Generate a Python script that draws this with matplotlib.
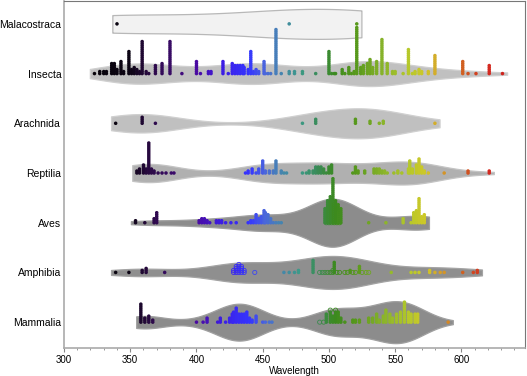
import numpy as np
import matplotlib
matplotlib.use('Agg')
import matplotlib.pyplot as plt
from matplotlib import mlab
from matplotlib.colors import LinearSegmentedColormap
from matplotlib.ticker import MultipleLocator

plt.rcParams['font.family'] = ['Liberation Sans', 'DejaVu Sans']

classes = ['Malacostraca', 'Insecta', 'Arachnida', 'Reptilia', 'Aves', 'Amphibia', 'Mammalia']

# peak wavelengths (nm) and how many records sit at each one
malacostraca_wl = [340, 470, 521]
malacostraca_n = [1, 1, 1]

insecta_wl = [323, 327, 330, 332, 336, 338, 340, 343, 345, 349, 351, 353, 355, 357, 359, 362, 364,
              369, 374, 380, 389, 400, 403, 409, 411, 420, 424, 427, 429, 431, 433, 435, 436, 439,
              441, 443, 445, 447, 451, 452, 454, 456, 460, 464, 470, 474, 480, 490, 500, 502, 504,
              505, 510, 512, 515, 517, 519, 521, 524, 526, 529, 531, 533, 536, 540, 544, 548, 550,
              556, 560, 563, 565, 568, 570, 575, 580, 601, 605, 611, 621, 631]
insecta_n = [1, 2, 2, 2, 6, 6, 3, 7, 2, 12, 3, 4, 3, 2, 17, 2, 1,
             5, 6, 17, 1, 7, 1, 2, 2, 7, 1, 6, 5, 5, 5, 5, 4, 3,
             12, 2, 3, 2, 7, 1, 1, 1, 23, 1, 2, 2, 2, 1, 12, 1, 1,
             1, 3, 1, 4, 1, 2, 24, 4, 5, 6, 8, 4, 7, 18, 6, 2, 2,
             1, 13, 1, 2, 3, 2, 2, 10, 7, 1, 1, 5, 1]

arachnida_wl = [339, 359, 369, 480, 490, 520, 531, 538, 541, 580]
arachnida_n = [1, 4, 1, 1, 3, 3, 2, 1, 2, 1]

reptilia_wl = [355, 357, 360, 362, 364, 366, 368, 371, 374, 377, 381, 383,
               437, 439, 442, 445, 447, 450, 452, 455, 458, 460, 464, 466, 468,
               480, 483, 485, 488, 490, 492, 494, 496, 498, 500, 502,
               518, 520, 522, 527, 534, 536, 538, 540, 542, 544, 549, 552, 555, 560, 561, 563,
               566, 568, 570, 572, 575, 587, 605, 621]
reptilia_n = [2, 3, 5, 3, 16, 3, 2, 1, 1, 1, 1, 1,
              1, 2, 3, 1, 3, 7, 2, 2, 2, 7, 2, 1, 1,
              1, 1, 2, 2, 4, 4, 4, 3, 1, 4, 5,
              1, 4, 2, 2, 3, 3, 3, 2, 2, 1, 1, 2, 1, 3, 7, 3,
              5, 8, 4, 2, 1, 1, 2, 2]

aves_wl = [354, 361, 368, 370,
           402, 404, 406, 408, 410, 415, 417, 419, 422, 426, 430,
           439, 441, 443, 445, 447, 449, 451, 452, 454, 456, 458, 460, 462, 464,
           497, 499, 501, 503, 505, 507, 509,
           530, 543, 556, 562, 564, 566, 568, 570, 572]
aves_n = [2, 1, 3, 6,
          2, 3, 3, 2, 1, 2, 2, 2, 1, 1, 1,
          1, 2, 2, 5, 3, 4, 7, 6, 5, 3, 1, 1, 1, 1,
          8, 12, 14, 23, 12, 10, 8,
          1, 1, 3, 1, 6, 7, 13, 4, 5]
aves_open_wl = [498, 500, 502, 504, 506, 508]
aves_open_n = [6, 9, 11, 10, 8, 6]

amphibia_wl = [339, 349, 359, 362, 376, 466, 470, 474, 477, 488, 504, 516, 523,
               547, 562, 565, 568, 576, 580, 584, 587, 601, 609, 612]
amphibia_n = [1, 1, 2, 3, 1, 1, 1, 1, 2, 7, 6, 2, 4,
              1, 1, 1, 1, 2, 1, 1, 1, 1, 1, 2]
amphibia_open_wl = [428, 430, 432, 434, 436, 444,
                    493, 495, 497, 499, 501, 503, 506, 508, 512, 514, 518, 520, 525, 528, 530]
amphibia_open_n = [2, 4, 5, 4, 2, 1,
                   1, 1, 1, 1, 1, 2, 1, 1, 1, 1, 1, 1, 1, 1, 1]

mammalia_wl = [358, 361, 364, 367,
               400, 405, 408, 416, 418, 422, 425, 427, 428, 430, 432, 434, 436, 438, 440, 442,
               445, 450, 452, 455, 457,
               498, 501, 503, 505, 507, 509, 512,
               518, 520, 523, 530, 533, 536, 538, 541, 543, 546, 548, 551, 554, 557, 560, 562,
               565, 567, 590]
mammalia_n = [10, 3, 4, 2,
              1, 1, 3, 1, 3, 1, 3, 5, 6, 8, 5, 5, 5, 6, 3, 2,
              4, 1, 1, 1, 1,
              5, 6, 4, 6, 6, 3, 1,
              2, 2, 2, 3, 3, 5, 2, 4, 7, 5, 3, 5, 6, 11, 6, 5,
              5, 5, 1]
mammalia_open_wl = [493, 496, 501, 505]
mammalia_open_n = [1, 1, 1, 1]

filled = [(malacostraca_wl, malacostraca_n), (insecta_wl, insecta_n), (arachnida_wl, arachnida_n),
          (reptilia_wl, reptilia_n), (aves_wl, aves_n), (amphibia_wl, amphibia_n),
          (mammalia_wl, mammalia_n)]
hollow = [([], []), ([], []), ([], []), ([], []), (aves_open_wl, aves_open_n),
          (amphibia_open_wl, amphibia_open_n), (mammalia_open_wl, mammalia_open_n)]

# violin look per class
half_px = [15, 12.5, 15, 11.5, 24, 16.5, 21]
bw_nm = [60, 24, 28, 22, 19, 24, 16]
faces = ['#f2f2f2', '#c0c0c0', '#c0c0c0', '#b0b0b0', '#8c8c8c', '#8f8f8f', '#8c8c8c']
edges = ['#b8b8b8', '#d0d0d0', '#d0d0d0', '#c4c4c4', '#a0a0a0', '#a4a4a4', '#a0a0a0']

spec_nm = [300, 350, 365, 385, 400, 420, 440, 452, 462, 478, 492, 505, 522, 540, 560, 574, 582,
           595, 605, 620, 650]
spec_hex = ['#000000', '#0d0515', '#2b0a45', '#3d0b70', '#4a0aa0', '#3c1ee6', '#3535ff', '#4a66dc',
            '#4682b4', '#3c9a86', '#3a8a55', '#3c8a1e', '#5a9a1c', '#86b22a', '#b4c82a', '#d0c828',
            '#d4a42a', '#d47a22', '#d05420', '#d42a20', '#c81818']
spec = LinearSegmentedColormap.from_list(
    'spec', [((v - 300) / 350, c) for v, c in zip(spec_nm, spec_hex)])

px_unit = 49.7      # pixels per category row
step = 2.0 / px_unit
pad = 3.5


def stack(wl, n, base, offset=None):
    xs, ys = [], []
    for w, k in zip(wl, n):
        s0 = offset.get(w, 0) if offset else 0
        for j in range(k):
            xs.append(w)
            ys.append(base - (s0 + j) * step)
    return np.array(xs, float), np.array(ys, float)


fig = plt.figure(figsize=(5.27, 3.76), dpi=100)
ax = fig.add_axes([64 / 527, 28 / 376, 461 / 527, 347 / 376])

for i, name in enumerate(classes):
    wl, n = filled[i]
    owl, on = hollow[i]
    data = np.concatenate([np.repeat(wl, n), np.repeat(owl, on)]).astype(float)
    kde = mlab.GaussianKDE(data, bw_method=bw_nm[i] / np.std(data, ddof=1))
    grid = np.linspace(data.min() - pad, data.max() + pad, 400)
    dens = kde.evaluate(grid)
    w = dens / dens.max() * half_px[i] / px_unit
    ax.fill_between(grid, i - w, i + w, facecolor=faces[i], edgecolor=edges[i],
                    linewidth=0.9, zorder=1)

for i, name in enumerate(classes):
    wl, n = filled[i]
    xs, ys = stack(wl, n, i)
    ax.scatter(xs, ys, s=6.5, c=spec((xs - 300) / 350), edgecolors='none', zorder=3)
    owl, on = hollow[i]
    if owl:
        xo, yo = stack(owl, on, i, dict(zip(wl, n)))
        ax.scatter(xo, yo, s=9, facecolors='none', edgecolors=spec((xo - 300) / 350),
                   linewidths=0.6, zorder=3)

ax.set_xlim(300, 648)
ax.set_ylim(6.52, -0.46)
ax.set_yticks(range(len(classes)), classes)
ax.xaxis.set_major_locator(MultipleLocator(50))
ax.xaxis.set_minor_locator(MultipleLocator(10))
ax.tick_params(axis='y', length=0, pad=2, labelsize=7.5)
ax.tick_params(axis='x', which='major', length=3, width=0.8, color='#888888', labelsize=7, pad=2)
ax.tick_params(axis='x', which='minor', length=1.6, width=0.6, color='#888888')
ax.set_xlabel('Wavelength', fontsize=7, labelpad=1)
for side in ['left', 'bottom']:
    ax.spines[side].set_color('#aaaaaa')
    ax.spines[side].set_linewidth(1.2)
for side in ['top', 'right']:
    ax.spines[side].set_color('#777777')
    ax.spines[side].set_linewidth(0.8)

fig.savefig('out.png', dpi=100)
